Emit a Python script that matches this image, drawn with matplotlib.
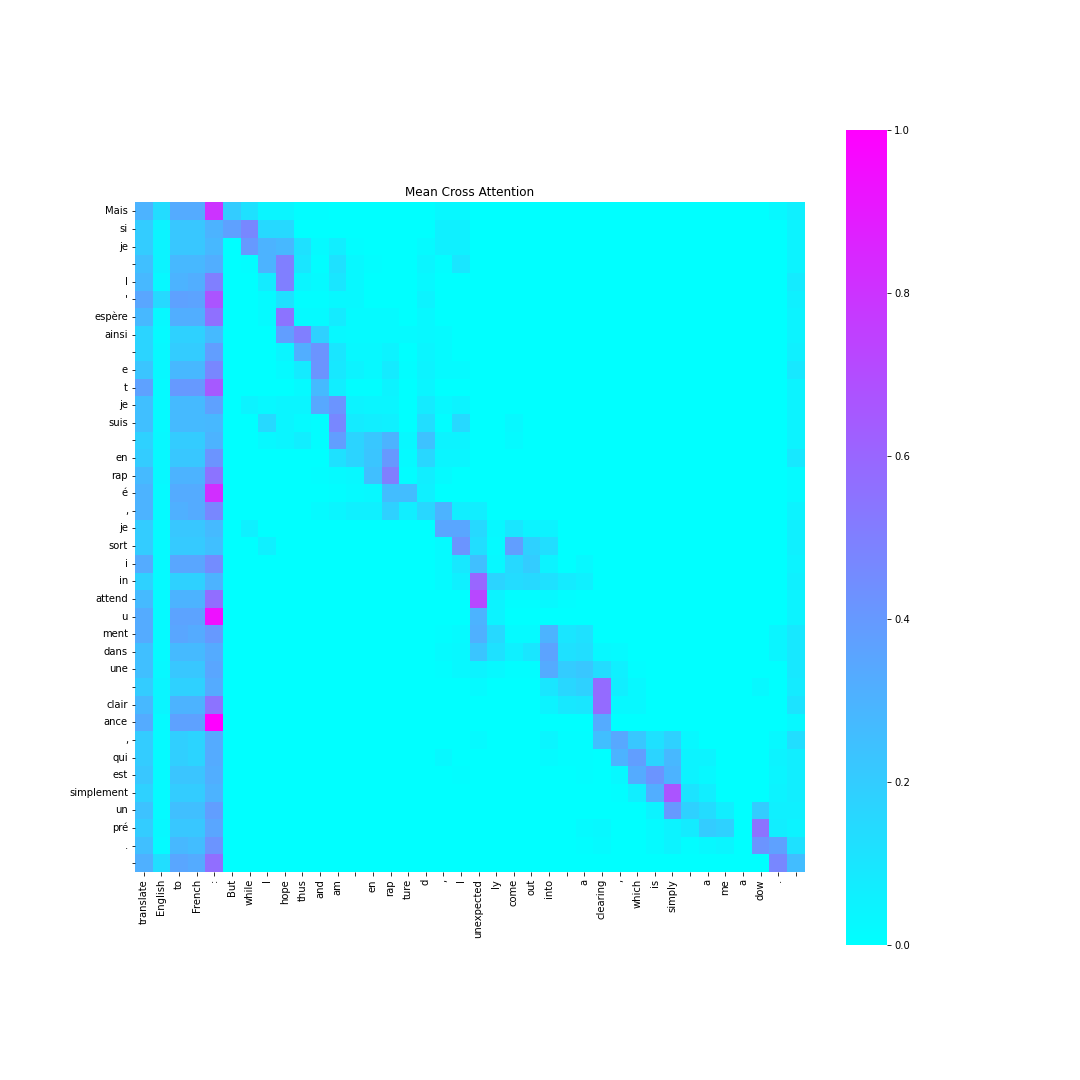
import matplotlib
matplotlib.use("Agg")
import matplotlib.pyplot as plt
import numpy as np
import seaborn as sns

x_tokens = ["translate", "English", "to", "French", ":", "But", "while", "I", "hope", "thus",
            "and", "am", " ", "en", "rap", "ture", "d", ",", "I", "unexpected",
            "ly", "come", "out", "into", " ", "a", "clearing", ",", "which", "is",
            "simply", " ", "a", "me", "a", "dow", ".", " "]
y_tokens = ["Mais", "si", "je", " ", "l", "'", "espère", "ainsi", " ", "e",
            "t", "je", "suis", " ", "en", "rap", "é", ",", "je", "sort",
            "i", "in", "attend", "u", "ment", "dans", "une", " ", "clair", "ance",
            ",", "qui", "est", "simplement", "un", "pré", ".", " "]

attention = [
 [.3,.14,.33,.33,.8,.2,.12,.04,.04,.01, .01,0,0,0,0,0,0,.03,.03,0, 0,0,0,0,0,0,0,0,0,0, 0,0,0,0,0,0,.03,.06],
 [.2,.05,.22,.22,.3,.37,.47,.15,.15,0, 0,0,0,0,0,0,0,.06,.06,0, 0,0,0,0,0,0,0,0,0,0, 0,0,0,0,0,0,0,.05],
 [.2,.05,.22,.22,.28,0,.4,.3,.28,.12, .02,.07,.01,0,0,0,.02,.06,.06,0, 0,0,0,0,0,0,0,0,0,0, 0,0,0,0,0,0,0,.05],
 [.25,.05,.28,.28,.32,0,.01,.3,.5,.1, .01,.12,.03,.01,0,0,.04,.01,.1,0, 0,0,0,0,0,0,0,0,0,0, 0,0,0,0,0,0,0,.05],
 [.28,.03,.3,.32,.5,0,0,.08,.5,.04, .02,.1,.03,0,0,0,.03,0,0,0, 0,0,0,0,0,0,0,0,0,0, 0,0,0,0,0,0,0,.08],
 [.35,.15,.37,.36,.67,0,0,.02,.12,.01, .01,.03,.03,0,0,0,.05,0,0,0, 0,0,0,0,0,0,0,0,0,0, 0,0,0,0,0,0,0,.06],
 [.28,.03,.32,.32,.56,0,0,.02,.55,.02, .02,.08,.02,.02,.02,0,.03,0,0,0, 0,0,0,0,0,0,0,0,0,0, 0,0,0,0,0,0,0,.05],
 [.17,.02,.18,.18,.27,0,0,0,.38,.5, .18,.03,.02,.02,.02,.02,.03,.02,0,0, 0,0,0,0,0,0,0,0,0,0, 0,0,0,0,0,0,0,.05],
 [.17,.03,.2,.2,.38,0,0,0,.04,.32, .42,.1,.03,.03,.05,0,.04,.02,0,0, 0,0,0,0,0,0,0,0,0,0, 0,0,0,0,0,0,0,.06],
 [.23,.03,.28,.28,.47,0,0,0,.02,.08, .42,.09,.05,.03,.08,.01,.05,.02,.02,0, 0,0,0,0,0,0,0,0,0,0, 0,0,0,0,0,0,0,.09],
 [.37,.02,.4,.4,.65,0,0,0,0,.02, .27,.07,.01,.01,.05,0,.04,0,0,0, 0,0,0,0,0,0,0,0,0,0, 0,0,0,0,0,0,0,.05],
 [.25,.02,.27,.27,.37,0,.05,.03,.04,.04, .34,.42,.05,.04,.04,0,.08,.03,.05,0, 0,0,0,0,0,0,0,0,0,0, 0,0,0,0,0,0,0,.05],
 [.25,.02,.27,.27,.28,0,0,.15,.04,.02, .01,.47,.08,.07,.06,0,.13,.01,.15,0, 0,.03,0,0,0,0,0,0,0,0, 0,0,0,0,0,0,0,.05],
 [.18,.03,.2,.2,.3,0,0,.03,.04,.07, .01,.38,.17,.22,.3,.03,.24,.05,.05,0, 0,.02,0,0,0,0,0,0,0,0, 0,0,0,0,0,0,0,.05],
 [.2,.03,.22,.22,.42,0,0,0,0,0, 0,.12,.17,.23,.4,.02,.16,.04,.04,0, 0,0,0,0,0,0,0,0,0,0, 0,0,0,0,0,0,0,.09],
 [.27,.03,.3,.3,.55,0,0,0,0,0, .01,.02,.03,.25,.5,.01,.07,.02,0,0, 0,0,0,0,0,0,0,0,0,0, 0,0,0,0,0,0,0,.02],
 [.3,.02,.33,.33,.82,0,0,0,0,0, 0,.01,.02,.03,.26,.26,.06,0,0,0, 0,0,0,0,0,0,0,0,0,0, 0,0,0,0,0,0,0,.02],
 [.3,.02,.31,.33,.47,0,0,0,0,0, .02,.04,.06,.06,.18,.07,.16,.3,.07,.07, 0,0,0,0,0,0,0,0,0,0, 0,0,0,0,0,0,0,.05],
 [.2,.02,.22,.22,.27,0,.06,0,0,0, 0,0,0,0,0,0,0,.35,.35,.15, .03,.1,.05,.05,0,0,0,0,0,0, 0,0,0,0,0,0,0,.06],
 [.2,.02,.21,.21,.25,0,0,.06,0,0, 0,0,0,0,0,0,0,.02,.42,.13, .02,.38,.18,.13,0,0,0,0,0,0, 0,0,0,0,0,0,0,.06],
 [.33,.02,.35,.35,.45,0,0,0,0,0, 0,0,0,0,0,0,0,.02,.09,.25, .03,.15,.2,.05,0,.03,0,0,0,0, 0,0,0,0,0,0,0,.05],
 [.18,.02,.18,.18,.3,0,0,0,0,0, 0,0,0,0,0,0,0,.02,.06,.6, .17,.14,.15,.12,.08,.06,0,0,0,0, 0,0,0,0,0,0,0,.06],
 [.27,.02,.3,.3,.57,0,0,0,0,0, 0,0,0,0,0,0,0,0,0,.72, .05,.01,.01,.03,.01,0,0,0,0,0, 0,0,0,0,0,0,0,.05],
 [.33,.02,.36,.36,.93,0,0,0,0,0, 0,0,0,0,0,0,0,0,0,.3, .05,0,0,0,0,0,0,0,0,0, 0,0,0,0,0,0,0,.05],
 [.33,.02,.35,.33,.4,0,0,0,0,0, 0,0,0,0,0,0,0,.01,.02,.31, .15,.02,.02,.3,.1,.12,0,0,0,0, 0,0,0,0,0,0,.04,.09],
 [.25,.02,.27,.27,.33,0,0,0,0,0, 0,0,0,0,0,0,0,.02,.03,.23, .12,.06,.1,.36,.12,.13,.03,.02,0,0, 0,0,0,0,0,0,.04,.09],
 [.25,.03,.22,.22,.35,0,0,0,0,0, 0,0,0,0,0,0,0,.01,.03,.05, .03,.01,.01,.33,.2,.22,.14,.06,.01,0, 0,0,0,0,0,0,0,.09],
 [.2,.04,.18,.18,.33,0,0,0,0,0, 0,0,0,0,0,0,0,0,0,.02, 0,0,0,.1,.16,.18,.58,.07,.03,0, 0,0,0,0,0,.03,0,.08],
 [.28,.04,.3,.3,.55,0,0,0,0,0, 0,0,0,0,0,0,0,0,0,0, 0,0,0,.05,.09,.1,.58,.03,.03,0, 0,0,0,0,0,0,0,.11],
 [.33,.02,.37,.37,1,0,0,0,0,0, 0,0,0,0,0,0,0,0,0,0, 0,0,0,0,0,0,.33,0,0,0, 0,0,0,0,0,0,0,.03],
 [.2,.02,.19,.17,.33,0,0,0,0,0, 0,0,0,0,0,0,0,0,0,.02, 0,0,0,.04,.01,.01,.25,.34,.22,.12, .18,.03,0,0,0,0,.03,.13],
 [.2,.02,.19,.17,.33,0,0,0,0,0, 0,0,0,0,0,0,0,.03,0,0, 0,0,0,.02,.01,.01,0,.3,.38,.17, .28,.05,.05,0,0,0,.05,.07],
 [.22,.02,.23,.23,.32,0,0,0,0,0, 0,0,0,0,0,0,0,0,.01,0, 0,0,0,0,0,.01,0,.03,.33,.42, .3,.05,.03,0,0,0,.04,.07],
 [.18,.02,.2,.2,.3,0,0,0,0,0, 0,0,0,0,0,0,0,0,0,0, 0,0,0,0,0,0,0,.01,.07,.32, .67,.11,.07,0,0,0,.05,.07],
 [.24,.02,.25,.25,.38,0,0,0,0,0, 0,0,0,0,0,0,0,0,0,0, 0,0,0,0,0,0,0,0,0,.05, .4,.18,.14,.07,0,.2,.06,.06],
 [.2,.03,.22,.22,.35,0,0,0,0,0, 0,0,0,0,0,0,0,0,0,0, 0,0,0,0,0,.02,.03,0,0,.02, .05,.08,.2,.18,0,.55,.07,.05],
 [.25,.02,.28,.26,.42,0,0,0,0,0, 0,0,0,0,0,0,0,0,0,0, 0,0,0,0,0,.01,.02,0,0,.02, .05,.01,.03,.04,0,.42,.37,.12],
 [.31,.13,.35,.33,.57,0,0,0,0,0, 0,0,0,0,0,0,0,0,0,0, 0,0,0,0,0,0,0,0,0,0, 0,0,0,0,0,0,.47,.26],
]

matrix = np.array(attention, dtype=float)
assert matrix.shape == (38, 38)

fig, ax = plt.subplots(figsize=(15, 15), dpi=72)
fig.subplots_adjust(bottom=0.125)
sns.heatmap(matrix, ax=ax, cmap="cool", vmin=0, vmax=1, square=True,
            xticklabels=x_tokens, yticklabels=y_tokens)
ax.tick_params(axis="x", labelrotation=90)
ax.tick_params(axis="y", labelrotation=0)
ax.set_title("Mean Cross Attention")
fig.savefig("out.png", dpi=72)
